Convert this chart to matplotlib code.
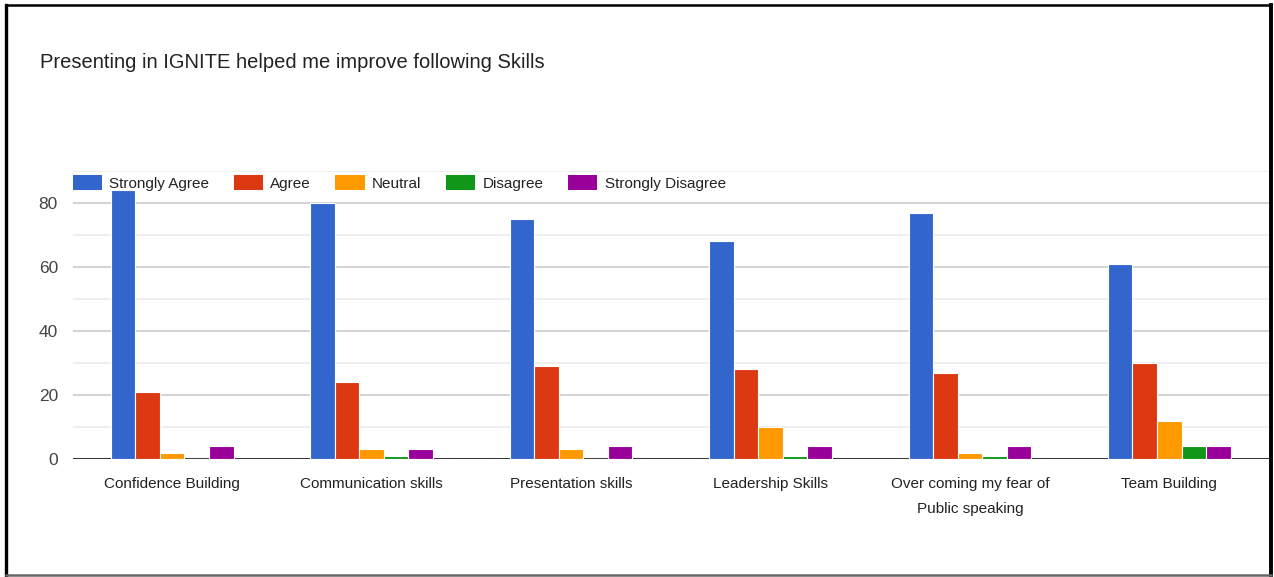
import numpy as np
import matplotlib
matplotlib.use("Agg")
import matplotlib.pyplot as plt
from matplotlib.lines import Line2D
from matplotlib.patches import Patch

plt.rcParams["font.family"] = ["Liberation Sans", "DejaVu Sans"]

# Data
categories = [
    "Confidence Building",
    "Communication skills",
    "Presentation skills",
    "Leadership Skills",
    "Over coming my fear of\nPublic speaking",
    "Team Building",
]
series_names = ["Strongly Agree", "Agree", "Neutral", "Disagree", "Strongly Disagree"]
strongly_agree = [84, 80, 75, 68, 77, 61]
agree = [21, 24, 29, 28, 27, 30]
neutral = [2, 3, 3, 10, 2, 12]
disagree = [0, 1, 0, 1, 1, 4]
strongly_disagree = [4, 3, 4, 4, 4, 4]
y_ticks = [0, 20, 40, 60, 80]

series = [strongly_agree, agree, neutral, disagree, strongly_disagree]
colors = ["#3366CC", "#DC3912", "#FF9900", "#109618", "#990099"]

W, H = 1274, 577
fig = plt.figure(figsize=(W / 100, H / 100), dpi=100)
fig.patch.set_facecolor("white")

# axes placed in pixel terms
left, right, top, bottom = 72.5, 1269, 171, 459
ax = fig.add_axes([left / W, 1 - bottom / H, (right - left) / W, (bottom - top) / H])

x = np.arange(len(categories))
bw = 0.123
for i, (vals, col) in enumerate(zip(series, colors)):
    ax.bar(x + (i - 2) * bw, vals, width=bw, color=col, edgecolor="white",
           linewidth=0.8, zorder=3, label=series_names[i])

ax.set_xlim(-0.5, len(categories) - 0.5)
ax.set_ylim(0, 90)
ax.set_yticks(y_ticks)
ax.set_yticks([10, 30, 50, 70, 90], minor=True)
ax.set_axisbelow(True)
ax.grid(axis="y", which="major", color="#cccccc", linewidth=1.2)
ax.grid(axis="y", which="minor", color="#ebebeb", linewidth=1.2)
ax.axhline(0, color="#3a3a3a", linewidth=2.2, zorder=2.5)
for s in ax.spines.values():
    s.set_visible(False)

ax.set_xticks(x)
ax.set_xticklabels(categories, fontsize=11, color="#222222", linespacing=1.95)
ax.tick_params(axis="x", length=0, pad=13)
ax.tick_params(axis="y", which="both", length=0, pad=10.5, labelsize=12.5, labelcolor="#444444")

handles = [Patch(facecolor=c, edgecolor="none") for c in colors]
leg = ax.legend(handles, series_names, loc="center left", bbox_to_anchor=(0.0, 86.3 / 90),
                ncol=5, frameon=False, fontsize=11, handlelength=1.9, handleheight=1.1,
                handletextpad=0.5, columnspacing=1.6, borderpad=0, borderaxespad=0)
for t in leg.get_texts():
    t.set_color("#222222")

fig.text(40 / W, 1 - 62 / H, "Presenting in IGNITE helped me improve following Skills",
         fontsize=14.5, color="#222222", va="center", ha="left")

# black frame around the screenshot
fig.add_artist(Line2D([6.5 / W, 6.5 / W], [1 - 5 / H, 1 - 575 / H], color="black", linewidth=2.4))
fig.add_artist(Line2D([5.5 / W, 1271 / W], [1 - 5 / H, 1 - 5 / H], color="black", linewidth=1.8))
fig.add_artist(Line2D([1270.5 / W, 1270.5 / W], [1 - 5 / H, 1 - 575 / H], color="black", linewidth=2.8))
fig.add_artist(Line2D([5.5 / W, 1271 / W], [1 - 575 / H, 1 - 575 / H], color="#666666", linewidth=1.8))

fig.savefig("out.png", dpi=100)
